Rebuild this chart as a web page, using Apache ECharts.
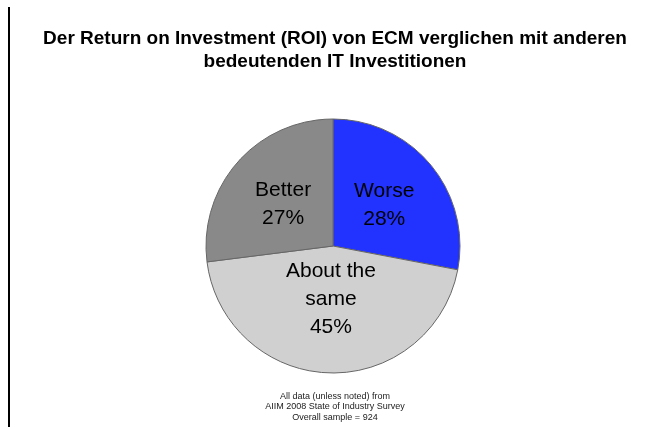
<!DOCTYPE html>
<html>
<head>
<meta charset="utf-8">
<script src="https://cdn.jsdelivr.net/npm/echarts@6/dist/echarts.min.js"></script>
<style>
html,body{margin:0;padding:0;background:#fff;}
#c{width:656px;height:427px;}
#bar{position:absolute;left:8px;top:7px;width:2px;height:420px;background:#000;}
</style>
</head>
<body>
<div id="c"></div>
<div id="bar"></div>
<script>
const categories = ['Worse', 'About the same', 'Better'];
const values = [28, 45, 27];
const colors = ['#2233FF', '#D0D0D0', '#898989'];
const titleText = 'Der Return on Investment (ROI) von ECM verglichen mit anderen\nbedeutenden IT Investitionen';
const footerText = 'All data (unless noted) from\nAIIM 2008 State of Industry Survey\nOverall sample = 924';

const chart = echarts.init(document.getElementById('c'));
chart.setOption({
  animation: false,
  title: [{
    text: titleText,
    left: 335, top: 28, textAlign: 'center', padding: 0,
    textStyle: {fontFamily: 'Liberation Sans, Arial', fontSize: 19, fontWeight: 'bold', color: '#000', lineHeight: 22.5}
  }, {
    text: footerText,
    left: 335, top: 391, textAlign: 'center', padding: 0,
    textStyle: {fontFamily: 'Liberation Sans, Arial', fontSize: 9, fontWeight: 'normal', color: '#222', lineHeight: 10.5}
  }],
  series: [{
    type: 'pie',
    center: [333, 246],
    radius: 127,
    startAngle: 90,
    clockwise: true,
    data: categories.map((n, i) => ({name: n, value: values[i], itemStyle: {color: colors[i]}})),
    itemStyle: {borderColor: '#666', borderWidth: 1},
    label: {
      show: true, position: 'inside',
      formatter: p => p.name.replace('About the ', 'About the\n') + '\n' + p.value + '%',
      fontFamily: 'Liberation Sans, Arial', fontSize: 21, color: '#000', lineHeight: 28
    },
    labelLayout: p => (p.dataIndex === 1 ? {dy: -13} : {dy: 2}),
    labelLine: {show: false},
    emphasis: {disabled: true}
  }]
});
</script>
</body>
</html>
